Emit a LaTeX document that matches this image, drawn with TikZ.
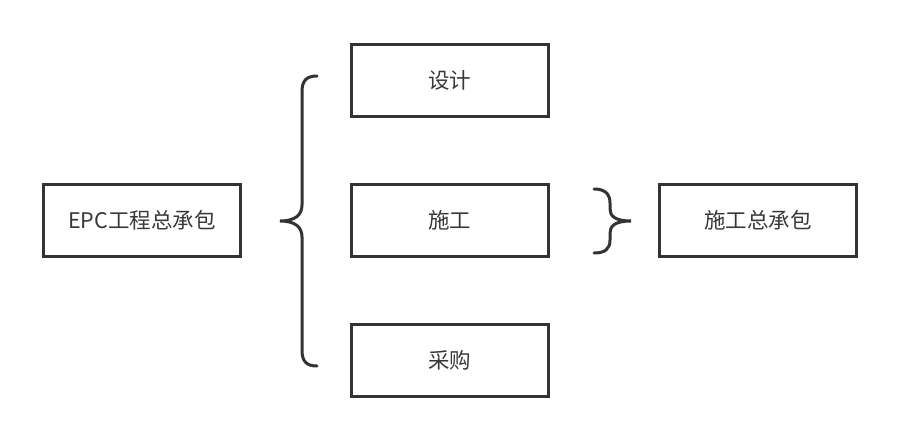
\documentclass[tikz,border=0pt]{standalone}
\usepackage{fontspec}
\setmainfont{Noto Sans CJK SC}

\begin{document}
\begin{tikzpicture}[
  x=1pt, y=-1pt,
  font=\fontsize{21.5}{26}\selectfont,
  box/.style={draw=black!80, line width=3pt, minimum width=197pt, minimum height=72pt, inner sep=0pt, text=black!78},
  brc/.style={draw=black!80, line width=3pt, line cap=round}
]
\useasboundingbox (0,0) rectangle (900,442);
\def\xL{142}
\def\xM{449.5}
\def\xR{758}

% boxes
\node[box] (epc) at (\xL, 220.5) {EPC工程总承包};
\node[box] (sj) at (\xM, 80) {设计};
\node[box] (sg) at (\xM, 220.5) {施工};
\node[box] (cg) at (\xM, 360.5) {采购};
\node[box] (zcb) at (\xR, 220.5) {施工总承包};

% braces
\coordinate (bt) at (280, 221);
\coordinate (st) at (631, 221);
\draw[brc] (317,76) .. controls (306,76) and (302,81) .. (302,92)
  -- (302,205) .. controls (302,215) and (295,221) .. (bt)
  .. controls (295,221) and (302,227) .. (302,237)
  -- (302,350) .. controls (302,361) and (306,366) .. (317,366);
\draw[brc] (594,189) .. controls (605,189) and (610,194) .. (610,203)
  -- (610,209) .. controls (610,216) and (615,221) .. (st)
  .. controls (615,221) and (610,226) .. (610,233)
  -- (610,240) .. controls (610,249) and (605,253) .. (594,253);
\end{tikzpicture}
\end{document}
